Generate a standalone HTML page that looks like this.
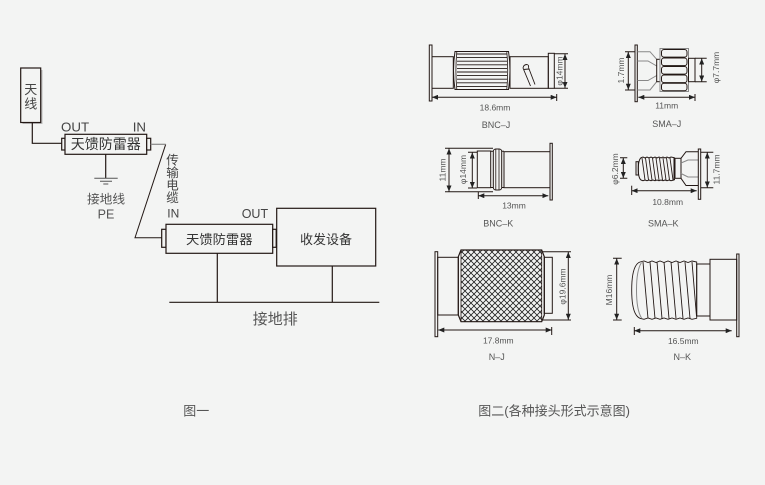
<!DOCTYPE html>
<html><head><meta charset="utf-8"><style>
html,body{margin:0;padding:0;background:#f3f4f3;}
svg{display:block;}
text{font-family:"Liberation Sans","Noto Sans CJK SC",sans-serif;}
.cn{font-family:"Liberation Sans","Noto Sans CJK SC",sans-serif;}
.d{font-size:8.5px;fill:#555;}
.n{font-size:9px;fill:#555;}
</style></head><body>
<svg width="765" height="485" viewBox="0 0 765 485" xmlns="http://www.w3.org/2000/svg">
<defs>
<marker id="a" markerWidth="6" markerHeight="5" refX="6" refY="2.5" orient="auto-start-reverse" markerUnits="userSpaceOnUse"><path d="M0 0 L6 2.5 L0 5 Z" fill="#222"/></marker>
<pattern id="x" width="6" height="6" patternUnits="userSpaceOnUse"><path d="M0 0 L6 6 M6 0 L0 6" stroke="#222" stroke-width="0.8"/></pattern>
</defs>
<rect width="765" height="485" fill="#f3f4f3"/>

<!-- LEFT DIAGRAM -->
<g fill="none" stroke="#231815" stroke-width="1.2">
<rect x="22.5" y="70" width="20" height="54" fill="#bbb" stroke="none"/>
<rect x="20.7" y="68" width="20" height="54.5" fill="#f3f4f3"/>
<path d="M32.3 122.5 V143.3 H61.7"/>
<rect x="61.7" y="138.3" width="3.3" height="11.7" fill="#f3f4f3"/>
<rect x="65" y="134.3" width="81.7" height="20" fill="#f3f4f3"/>
<rect x="146.7" y="138.3" width="4" height="11.7" fill="#f3f4f3"/>
<path d="M105.7 154.3 V178.3" />
<path d="M165.7 144.3 L135 237.7 H161.7" stroke-width="1"/>
<rect x="161.7" y="229.3" width="4.3" height="18" fill="#f3f4f3"/>
<rect x="166" y="224.3" width="106.7" height="29" fill="#f3f4f3"/>
<rect x="272.7" y="229.3" width="3.5" height="18" fill="#f3f4f3"/>
<rect x="276.7" y="208.3" width="99" height="57.7" fill="#f3f4f3"/>
<path d="M217.3 253.3 V302.3 M332.3 266 V302.3 M169.3 302.3 H379.3"/>
</g>
<path d="M150.7 144.3 H165.7" stroke="#888" stroke-width="1.2"/>
<path d="M94.3 178.3 H117.7 M100 181.3 H112 M103.3 184 H108.3" stroke="#555" stroke-width="1"/>

<g class="cn" fill="#444">
<text x="30.7" y="94" font-size="13" text-anchor="middle">天</text>
<text x="30.7" y="108.5" font-size="13" text-anchor="middle">线</text>
<text x="61" y="131.5" font-size="13.3">OUT</text>
<text x="132.7" y="131.5" font-size="13.3">IN</text>
<text x="105.8" y="148.8" font-size="14" text-anchor="middle" fill="#333">天馈防雷器</text>
<text x="106" y="203.5" font-size="12.7" text-anchor="middle" fill="#555">接地线</text>
<text x="106" y="218.3" font-size="12.5" text-anchor="middle" fill="#555">PE</text>
<text x="172.5" y="164.5" font-size="12.5" text-anchor="middle">传</text>
<text x="172.5" y="177" font-size="12.5" text-anchor="middle">输</text>
<text x="172.5" y="189.5" font-size="12.5" text-anchor="middle">电</text>
<text x="172.5" y="202" font-size="12.5" text-anchor="middle">缆</text>
<text x="167.3" y="217.7" font-size="12">IN</text>
<text x="241.7" y="218" font-size="12.5">OUT</text>
<text x="219.3" y="244" font-size="13.3" text-anchor="middle" fill="#333">天馈防雷器</text>
<text x="326" y="244" font-size="13" text-anchor="middle" fill="#333">收发设备</text>
<text x="275.3" y="324" font-size="15" text-anchor="middle" fill="#555">接地排</text>
<text x="183.3" y="415.5" font-size="13" fill="#555">图一</text>
<text x="478.3" y="415.5" font-size="13" fill="#555">图二(各种接头形式示意图)</text>
</g>

<!-- RIGHT: CONNECTORS -->
<g fill="none" stroke="#231815" stroke-width="1">
<!-- BNC-J -->
<rect x="429.3" y="45" width="2.7" height="56"/>
<rect x="432" y="56.7" width="21.3" height="31.6"/>
<path d="M455 51.5 H508.5 Q511.5 70.5 508.5 89.5 H455 Q452 70.5 455 51.5 Z"/>
<path d="M456.8 51.8 Q455 70.5 456.8 89.2 M506.8 51.8 Q508.6 70.5 506.8 89.2" stroke-width="0.8"/>
<path d="M457 54 H507 M457 57.6 H507 M457 61.2 H507 M457 64.8 H507 M457 68.4 H507 M457 72 H507 M457 75.6 H507 M457 79.2 H507 M457 82.8 H507 M457 86.4 H507" stroke-width="0.9"/>
<rect x="510" y="56.7" width="38.3" height="31.6"/>
<path d="M523 68 Q523.5 64.5 527 64.5 Q529 65 528.5 67.5 M523 68 L530.5 86 M528.5 67.5 L535 84.5 M523.5 69.5 L528.8 69" stroke-width="0.9"/>
<rect x="548.3" y="53.3" width="6" height="35"/>
<path d="M554.3 53.7 H568 M554.3 88.3 H568"/>
<path d="M565 54 V88" marker-start="url(#a)" marker-end="url(#a)"/>
<path d="M432 97.3 H556.7" marker-start="url(#a)" marker-end="url(#a)"/>
<path d="M556.7 94 V101"/>

<!-- SMA-J -->
<rect x="635" y="45" width="2.3" height="56.7"/>
<path d="M637.3 51.7 H650 L656.7 59.3 M637.3 90 H650 L656.7 81.7 M637.3 61 H648 L656.7 66 M637.3 80.5 H648 L656.7 75.5" stroke="#888"/>
<rect x="656.7" y="59.3" width="3.3" height="22.4"/>
<rect x="660" y="48.5" width="28.5" height="43" stroke="#888"/>
<rect x="661.5" y="49.5" width="25.5" height="7.6" rx="2.5"/>
<rect x="661.5" y="58" width="25.5" height="7.6" rx="2.5"/>
<rect x="661.5" y="66.5" width="25.5" height="7.6" rx="2.5"/>
<rect x="661.5" y="75" width="25.5" height="7.6" rx="2.5"/>
<rect x="661.5" y="83.3" width="25.5" height="7.4" rx="2.5"/>
<rect x="688.5" y="58.3" width="6.5" height="23.4"/>
<path d="M695 58.3 H706.7 M695 81.7 H706.7"/>
<path d="M701.7 58.5 V81.5" marker-start="url(#a)" marker-end="url(#a)"/>
<path d="M625 51.7 H635 M625 90 H635"/>
<path d="M628.3 52 V89.7" marker-start="url(#a)" marker-end="url(#a)"/>
<path d="M638.3 97.3 H695" marker-start="url(#a)" marker-end="url(#a)"/>
<path d="M695 94 V101"/>

<!-- BNC-K -->
<path d="M445 148.3 H493 M445 191.7 H493"/>
<path d="M449 148.5 V191.5" marker-start="url(#a)" marker-end="url(#a)"/>
<path d="M468 152.3 H477 M468 188 H477"/>
<path d="M472.3 152.5 V188" marker-start="url(#a)" marker-end="url(#a)"/>
<rect x="477.3" y="151" width="13.4" height="36.7"/>
<path d="M490.7 151.3 H493.3 M490.7 187.5 H493.3 M501.7 151.3 H504 M501.7 187.5 H504"/>
<rect x="493.3" y="149" width="8.4" height="41" rx="2.5"/>
<path d="M495.8 149.5 V189.5 M499 149.5 V189.5" stroke-width="0.8"/>
<rect x="504" y="151.7" width="46" height="36"/>
<rect x="550" y="143.3" width="2.3" height="56.7"/>
<path d="M478.3 195.7 H548.3" marker-start="url(#a)" marker-end="url(#a)"/>
<path d="M478.3 192 V199"/>

<!-- SMA-K -->
<path d="M620 157.7 H627.3 M620 178.3 H627.3"/>
<path d="M623.3 158 V178" marker-start="url(#a)" marker-end="url(#a)"/>
<rect x="636" y="161.7" width="2.3" height="13.3"/>
<path d="M641 157.7 L643 157 L645 158 L647 157 L649 158 L651 157 L653 158 L655 157 L657 158 L659 157 L661 158 L663 157 L665 158 L667 157 L669 158 L671 157 L674 157.7 V180 L671 180.7 L669 180 L667 180.7 L665 180 L663 180.7 L661 180 L659 180.7 L657 180 L655 180.7 L653 180 L651 180.7 L649 180 L647 180.7 L645 180 L643 180.7 L641 180 Q638.3 178 638.3 169 Q638.3 160 641 157.7 Z"/>
<path d="M642 158 L645 180 M645.5 158 L648.5 180 M649 158 L652 180 M652.5 158 L655.5 180 M656 158 L659 180 M659.5 158 L662.5 180 M663 158 L666 180 M666.5 158 L669.5 180 M670 158 L673 180" stroke-width="0.9"/>
<rect x="675" y="158.3" width="6" height="20"/>
<path d="M674 158 H675 M674 179.5 H675"/>
<path d="M681 158.3 L686 151.7 H698.3 M681 178.3 L686 185.5 H698.3"/>
<path d="M681 163 L688 160 H698.3 M681 173.5 L688 177 H698.3" stroke="#888"/>
<rect x="698.3" y="149" width="2.4" height="50.3"/>
<path d="M700.7 152.3 H713.3 M700.7 187.7 H713.3"/>
<path d="M707.3 152.5 V187.5" marker-start="url(#a)" marker-end="url(#a)"/>
<path d="M631.7 190.7 H696.7" marker-start="url(#a)" marker-end="url(#a)"/>
<path d="M631.7 185.7 V195"/>

<!-- N-J -->
<rect x="435" y="251.7" width="2.7" height="85"/>
<rect x="437.7" y="257.3" width="20.6" height="57.7"/>
<rect x="461" y="250" width="80.7" height="71.7" fill="url(#x)" stroke="none"/>
<path d="M461 250 H541.7 L544.3 256.7 V315 L541.7 321.7 H461 L458.3 315 V256.7 Z" stroke-width="1.2"/>
<path d="M461 250.5 V321.2 M541.7 250.5 V321.2" stroke-width="0.8"/>
<rect x="544.3" y="257.3" width="8" height="56"/>
<path d="M541.7 251.7 H571 M541.7 320 H571"/>
<path d="M568.3 252 V319.7" marker-start="url(#a)" marker-end="url(#a)"/>
<path d="M438.3 330 H551.7" marker-start="url(#a)" marker-end="url(#a)"/>
<path d="M551.7 327 V335"/>

<!-- N-K -->
<path d="M613 258.3 H621.7 M613 320 H621.7"/>
<path d="M616.7 258.5 V319.7" marker-start="url(#a)" marker-end="url(#a)"/>
<path d="M640 262 L644 261 L648 262.5 L652 261 L656 262.5 L660 261 L664 262.5 L668 261 L672 262.5 L676 261 L680 262.5 L684 261 L688 262.5 L692 261 L696.7 262 V318.3 L692 319.3 L688 318 L684 319.3 L680 318 L676 319.3 L672 318 L668 319.3 L664 318 L660 319.3 L656 318 L652 319.3 L648 318 L644 319.3 L640 318.3 Q631.7 315 631.7 290 Q631.7 265 640 262 Z" stroke-width="0.9"/>
<path d="M641.5 262.5 Q636.5 270 636.5 290 Q636.5 310 641.5 318" stroke="#888"/>
<path d="M643 262 L648 318.5 M650 262 L655 318.5 M657 262 L662 318.5 M664 262 L669 318.5 M671 262 L676 318.5 M678 262 L683 318.5 M685 262 L690 318.5 M692 262 L696.5 316" stroke-width="0.9"/>
<rect x="696.7" y="264" width="13.3" height="52"/>
<rect x="710" y="259.3" width="26.7" height="60.7"/>
<rect x="736.7" y="254" width="2.3" height="82.7"/>
<path d="M634.3 330.7 H731.7" marker-start="url(#a)" marker-end="url(#a)"/>
<path d="M634.3 327 V335"/>
</g>

<!-- dimension labels -->
<text class="d" x="495" y="110.5" text-anchor="middle">18.6mm</text>
<text class="n" x="496" y="128" text-anchor="middle">BNC–J</text>
<text class="d" transform="translate(562.5,71) rotate(-90)" text-anchor="middle">φ14mm</text>

<text class="d" x="666.7" y="108.5" text-anchor="middle">11mm</text>
<text class="n" x="666.7" y="127" text-anchor="middle">SMA–J</text>
<text class="d" transform="translate(719,67.5) rotate(-90)" text-anchor="middle">φ7.7mm</text>
<text class="d" transform="translate(624,70.5) rotate(-90)" text-anchor="middle">1.7mm</text>

<text class="d" x="514" y="208.5" text-anchor="middle">13mm</text>
<text class="n" x="498.3" y="226.5" text-anchor="middle">BNC–K</text>
<text class="d" transform="translate(445.5,170) rotate(-90)" text-anchor="middle">11mm</text>
<text class="d" transform="translate(466,169.5) rotate(-90)" text-anchor="middle">φ14mm</text>

<text class="d" x="667.7" y="205" text-anchor="middle">10.8mm</text>
<text class="n" x="663.3" y="226.5" text-anchor="middle">SMA–K</text>
<text class="d" transform="translate(618,169) rotate(-90)" text-anchor="middle">φ6.2mm</text>
<text class="d" transform="translate(719.5,169.5) rotate(-90)" text-anchor="middle">11.7mm</text>

<text class="d" x="498.3" y="343.5" text-anchor="middle">17.8mm</text>
<text class="n" x="496.7" y="360" text-anchor="middle">N–J</text>
<text class="d" transform="translate(565.5,286.5) rotate(-90)" text-anchor="middle">φ19.6mm</text>

<text class="d" x="683.3" y="344" text-anchor="middle">16.5mm</text>
<text class="n" x="682.3" y="360" text-anchor="middle">N–K</text>
<text class="d" transform="translate(612,290) rotate(-90)" text-anchor="middle">M16mm</text>
</svg>
</body></html>
